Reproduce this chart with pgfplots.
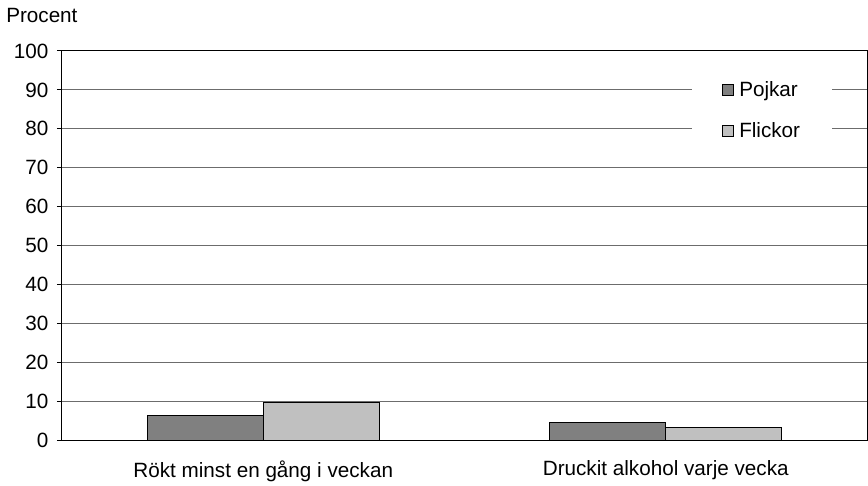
\documentclass[border=0pt]{standalone}
\usepackage{fontspec}
\setmainfont{Liberation Sans}
\usepackage{pgfplots}
\pgfplotsset{compat=1.18}
\definecolor{pojk}{HTML}{808080}
\definecolor{flick}{HTML}{C0C0C0}
\begin{document}
\begin{tikzpicture}[font=\fontsize{15.5pt}{18pt}\selectfont]
\begin{axis}[
  scale only axis,
  width=603.75pt, height=291.75pt,
  ymin=0, ymax=100,
  ytick={0,10,...,100},
  xmin=-0.5, xmax=1.5,
  xtick={0,1},
  xticklabels={Rökt minst en gång i veckan, Druckit alkohol varje vecka},
  ybar=0pt, bar width=87pt,
  axis line style={black, line width=0.75pt},
  ymajorgrids, major grid style={gray!85!black, line width=0.75pt},
  ytick pos=left, tick align=outside, major tick length=3.75pt,
  major y tick style={black, line width=0.75pt},
  major x tick style={draw=none},
  /pgf/number format/assume math mode=true,
  yticklabel style={xshift=-3pt},
  xticklabel style={yshift=-8pt},
  clip=false,
  legend style={at={(rel axis cs:0.7826,0.949)}, anchor=north west,
    draw=none, fill=white, inner xsep=22pt, inner ysep=6pt,
    row sep=14pt, cells={anchor=west}},
  legend image code/.code={\draw[#1, draw=black, line width=0.5pt] (0pt,-4.1pt) rectangle (8.25pt,4.1pt); \path[draw=none, fill=none] (0pt,0pt) -- (11pt,0pt);},
]
\addplot[fill=pojk, draw=black, line width=0.75pt] coordinates {(0,6.4) (1,4.4)};
\addplot[fill=flick, draw=black, line width=0.75pt] coordinates {(0,9.6) (1,3.2)};
\legend{Pojkar, Flickor}
\end{axis}
\node[anchor=base west, inner sep=0pt] at (-42pt,313pt) {Procent};
\useasboundingbox (-46.5pt,-32.25pt) rectangle (604.5pt,330pt);
\end{tikzpicture}
\end{document}
